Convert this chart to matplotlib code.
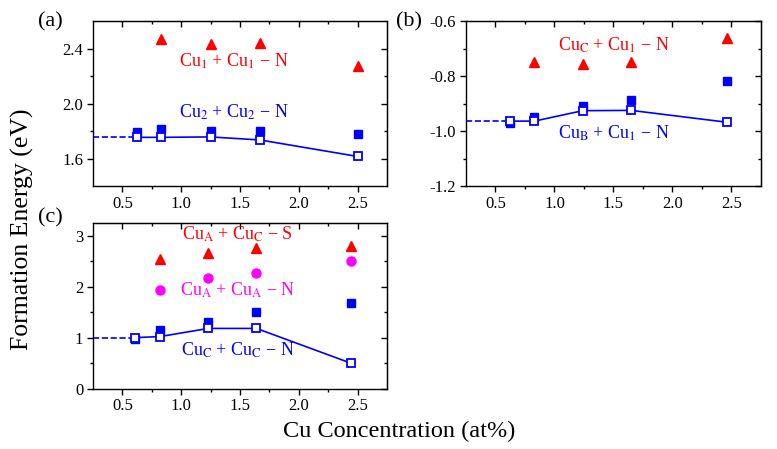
import numpy as np
import matplotlib
matplotlib.use("Agg")
import matplotlib.pyplot as plt

plt.rcParams['font.family'] = ['Liberation Serif', 'DejaVu Serif']
plt.rcParams['mathtext.fontset'] = 'stix'

# (a) data
xa = [0.62, 0.83, 1.25, 1.67, 2.50]
a_open = [1.754, 1.754, 1.757, 1.735, 1.615]
a_fill = [1.79, 1.815, 1.80, 1.80, 1.78]
a_tri = [2.47, 2.436, 2.443, 2.27]
xa_tri = [0.83, 1.25, 1.67, 2.50]

# (b) data
xb = [0.62, 0.83, 1.24, 1.65, 2.46]
b_open = [-0.964, -0.964, -0.926, -0.925, -0.968]
b_fill = [-0.972, -0.95, -0.91, -0.887, -0.817]
b_tri = [-0.749, -0.756, -0.75, -0.66]
xb_tri = [0.83, 1.24, 1.65, 2.46]

# (c) data
xc = [0.61, 0.82, 1.23, 1.64, 2.44]
c_open = [1.0, 1.02, 1.18, 1.18, 0.50]
c_fill = [0.98, 1.15, 1.31, 1.50, 1.67]
c_circ = [1.94, 2.18, 2.27, 2.50]
c_tri = [2.54, 2.67, 2.75, 2.80]
xc_pts = [0.82, 1.23, 1.64, 2.44]

BLUE = '#0000ff'
RED = '#ff0000'
MAG = '#ff00ff'

fig = plt.figure(figsize=(7.77, 4.49), dpi=100)
ax_a = fig.add_axes([0.1197, 0.5857, 0.3784, 0.3675])
ax_b = fig.add_axes([0.5997, 0.5857, 0.3797, 0.3675])
ax_c = fig.add_axes([0.1197, 0.1347, 0.3784, 0.3686])


def style(ax, ylim, yticks, yminor, ylabels):
    ax.set_xlim(0.25, 2.75)
    ax.set_ylim(*ylim)
    xt = [0.5, 1.0, 1.5, 2.0, 2.5]
    xm = [0.75, 1.25, 1.75, 2.25]
    ax.set_xticks(xt)
    ax.set_xticklabels(['0.5', '1.0', '1.5', '2.0', '2.5'])
    ax.set_xticks(xm, minor=True)
    ax.set_yticks(yticks)
    ax.set_yticklabels(ylabels)
    ax.set_yticks(yminor, minor=True)
    ax.tick_params(which='both', direction='out', labelsize=12, width=1, pad=3)
    ax.tick_params(which='major', length=4)
    ax.tick_params(which='minor', length=2.5)
    for s in ax.spines.values():
        s.set_linewidth(1.0)
    top = ax.secondary_xaxis('top')
    top.set_xticks(xt)
    top.set_xticks(xm, minor=True)
    top.tick_params(which='both', direction='in', labeltop=False, width=1)
    top.tick_params(which='major', length=4)
    top.tick_params(which='minor', length=2.5)
    right = ax.secondary_yaxis('right')
    right.set_yticks(yticks)
    right.set_yticks(yminor, minor=True)
    right.tick_params(which='both', direction='in', labelright=False, width=1)
    right.tick_params(which='major', length=4)
    right.tick_params(which='minor', length=2.5)


def blue_series(ax, x, yfill, yopen):
    ax.plot([0.25, x[0]], [yopen[0], yopen[0]], '--', color=BLUE, lw=1.2, zorder=2)
    ax.plot(x, yfill, 's', color=BLUE, ms=5.5, zorder=3)
    ax.plot(x, yopen, '-s', color=BLUE, mfc='white', mec=BLUE, mew=1.3,
            ms=5.5, lw=1.2, zorder=4)


def label(a, b, c):
    return 'Cu$_\\mathrm{%s}$ + Cu$_\\mathrm{%s}$ \u2212 %s' % (a, b, c)


# (a)
blue_series(ax_a, xa, a_fill, a_open)
ax_a.plot(xa_tri, a_tri, '^', color=RED, ms=7, zorder=3)
ax_a.text(1.45, 2.31, label('1', '1', 'N'), color=RED, fontsize=13,
          ha='center', va='center')
ax_a.text(1.45, 1.935, label('2', '2', 'N'), color=BLUE, fontsize=13,
          ha='center', va='center')
style(ax_a, (1.4, 2.6), [1.6, 2.0, 2.4], [1.8, 2.2], ['1.6', '2.0', '2.4'])

# (b)
blue_series(ax_b, xb, b_fill, b_open)
ax_b.plot(xb_tri, b_tri, '^', color=RED, ms=7, zorder=3)
ax_b.text(1.50, -0.687, label('C', '1', 'N'), color=RED, fontsize=13,
          ha='center', va='center')
ax_b.text(1.50, -1.01, label('B', '1', 'N'), color=BLUE, fontsize=13,
          ha='center', va='center')
style(ax_b, (-1.2, -0.6), [-1.2, -1.0, -0.8, -0.6], [-1.1, -0.9, -0.7],
      ['-1.2', '-1.0', '-0.8', '-0.6'])

# (c)
blue_series(ax_c, xc, c_fill, c_open)
ax_c.plot(xc_pts, c_circ, 'o', color=MAG, ms=6.5, zorder=3)
ax_c.plot(xc_pts, c_tri, '^', color=RED, ms=7, zorder=3)
ax_c.text(1.48, 3.03, label('A', 'C', 'S'), color=RED, fontsize=13,
          ha='center', va='center')
ax_c.text(1.48, 1.92, label('A', 'A', 'N'), color=MAG, fontsize=13,
          ha='center', va='center')
ax_c.text(1.48, 0.75, label('C', 'C', 'N'), color=BLUE, fontsize=13,
          ha='center', va='center')
style(ax_c, (0, 3.25), [0, 1, 2, 3], [0.5, 1.5, 2.5], ['0', '1', '2', '3'])

# panel tags and axis titles
fig.text(0.049, 0.952, '(a)', fontsize=16, va='center', ha='left')
fig.text(0.510, 0.952, '(b)', fontsize=16, va='center', ha='left')
fig.text(0.049, 0.515, '(c)', fontsize=16, va='center', ha='left')
fig.text(0.029, 0.49, 'Formation Energy (eV)', fontsize=18.5, rotation=90,
         va='center', ha='center')
fig.text(0.514, 0.04, 'Cu Concentration (at%)', fontsize=17.5,
         va='center', ha='center')

fig.savefig('out.png', dpi=100)
